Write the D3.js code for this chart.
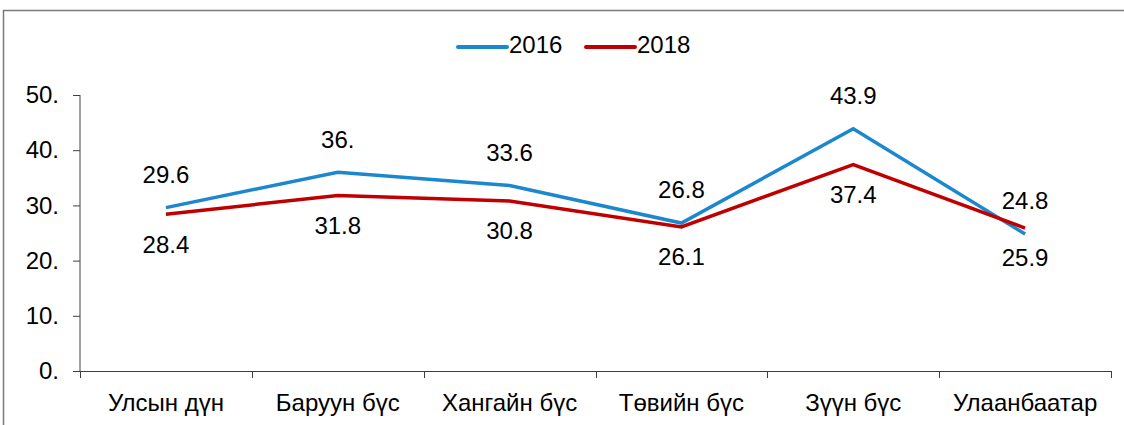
<!DOCTYPE html>
<html>
<head>
<meta charset="utf-8">
<script src="https://cdn.jsdelivr.net/npm/d3@7"></script>
<style>
  body { margin: 0; background: #fff; }
  text { font-family: "Liberation Sans", Arial, sans-serif; fill: #000; }
</style>
</head>
<body>
<svg id="chart" width="1124" height="425"></svg>
<script>
const categories = ["Улсын дүн", "Баруун бүс", "Хангайн бүс", "Төвийн бүс", "Зүүн бүс", "Улаанбаатар"]
const values2016 = [29.6, 36.0, 33.6, 26.8, 43.9, 24.8]
const values2018 = [28.4, 31.8, 30.8, 26.1, 37.4, 25.9]
const yTicks = [0, 10, 20, 30, 40, 50]

const series = [
  { name: "2016", values: values2016, color: "#1b87cf", labelDy: -31 },
  { name: "2018", values: values2018, color: "#c00000", labelDy: 32 }
]

const margin = { left: 80, right: 13, top: 95, bottom: 54 }
const width = 1124, height = 425
const fontSize = 24

// number format with trailing dot for whole numbers, like the source
const fmt = v => Number.isInteger(v) ? v + "." : String(v)

const svg = d3.select("#chart")

// outer frame (clipped on right and bottom)
svg.append("rect")
  .attr("x", 3.5).attr("y", 10.5)
  .attr("width", 1140).attr("height", 440)
  .attr("fill", "none")
  .attr("stroke", "#7a7a7a")
  .attr("stroke-width", 1.5)

const x = d3.scaleBand()
  .domain(categories)
  .range([margin.left, width - margin.right])

const y = d3.scaleLinear()
  .domain([0, 50])
  .range([height - margin.bottom, margin.top])

// y axis
const yAxis = svg.append("g")
  .attr("transform", `translate(${margin.left},0)`)
  .call(d3.axisLeft(y).tickValues(yTicks).tickFormat(fmt).tickSize(7).tickPadding(14))
yAxis.selectAll("path, line").attr("stroke", "#404040")
yAxis.selectAll("text").attr("font-size", fontSize).attr("font-family", "Liberation Sans, Arial, sans-serif").attr("fill", "#000")
yAxis.select(".domain").attr("d", `M0,${y(0)}V${y(50)}`)

// x axis: line plus ticks at band edges
const xg = svg.append("g")
xg.append("line")
  .attr("x1", margin.left).attr("x2", width - margin.right)
  .attr("y1", y(0) + 0.5).attr("y2", y(0) + 0.5)
  .attr("stroke", "#404040")
const edges = categories.map(c => x(c)).concat([x(categories[categories.length - 1]) + x.bandwidth()])
xg.selectAll(".edge")
  .data(edges)
  .join("line")
  .attr("x1", d => Math.round(d) + 0.5).attr("x2", d => Math.round(d) + 0.5)
  .attr("y1", y(0)).attr("y2", y(0) + 7)
  .attr("stroke", "#404040")
xg.selectAll(".cat")
  .data(categories)
  .join("text")
  .attr("x", d => x(d) + x.bandwidth() / 2)
  .attr("y", y(0) + 34)
  .attr("text-anchor", "middle")
  .attr("dominant-baseline", "middle")
  .attr("font-size", fontSize)
  .text(d => d)

const line = d3.line()
  .x((d, i) => x(categories[i]) + x.bandwidth() / 2)
  .y(d => y(d))

series.forEach(s => {
  svg.append("path")
    .datum(s.values)
    .attr("fill", "none")
    .attr("stroke", s.color)
    .attr("stroke-width", 3.5)
    .attr("d", line)

  svg.append("g")
    .selectAll("text")
    .data(s.values)
    .join("text")
    .attr("x", (d, i) => x(categories[i]) + x.bandwidth() / 2)
    .attr("y", d => y(d) + s.labelDy)
    .attr("text-anchor", "middle")
    .attr("dominant-baseline", "middle")
    .attr("font-size", fontSize)
    .text(d => fmt(d))
})

// legend
const legend = svg.append("g").attr("transform", "translate(458,47)")
series.forEach((s, i) => {
  const g = legend.append("g").attr("transform", `translate(${i * 128},0)`)
  g.append("line")
    .attr("x1", 0).attr("x2", 49)
    .attr("stroke", s.color)
    .attr("stroke-width", 4)
    .attr("stroke-linecap", "round")
  g.append("text")
    .attr("x", 51).attr("y", 0)
    .attr("dominant-baseline", "middle")
    .attr("font-size", fontSize)
    .text(s.name)
})
</script>
</body>
</html>
